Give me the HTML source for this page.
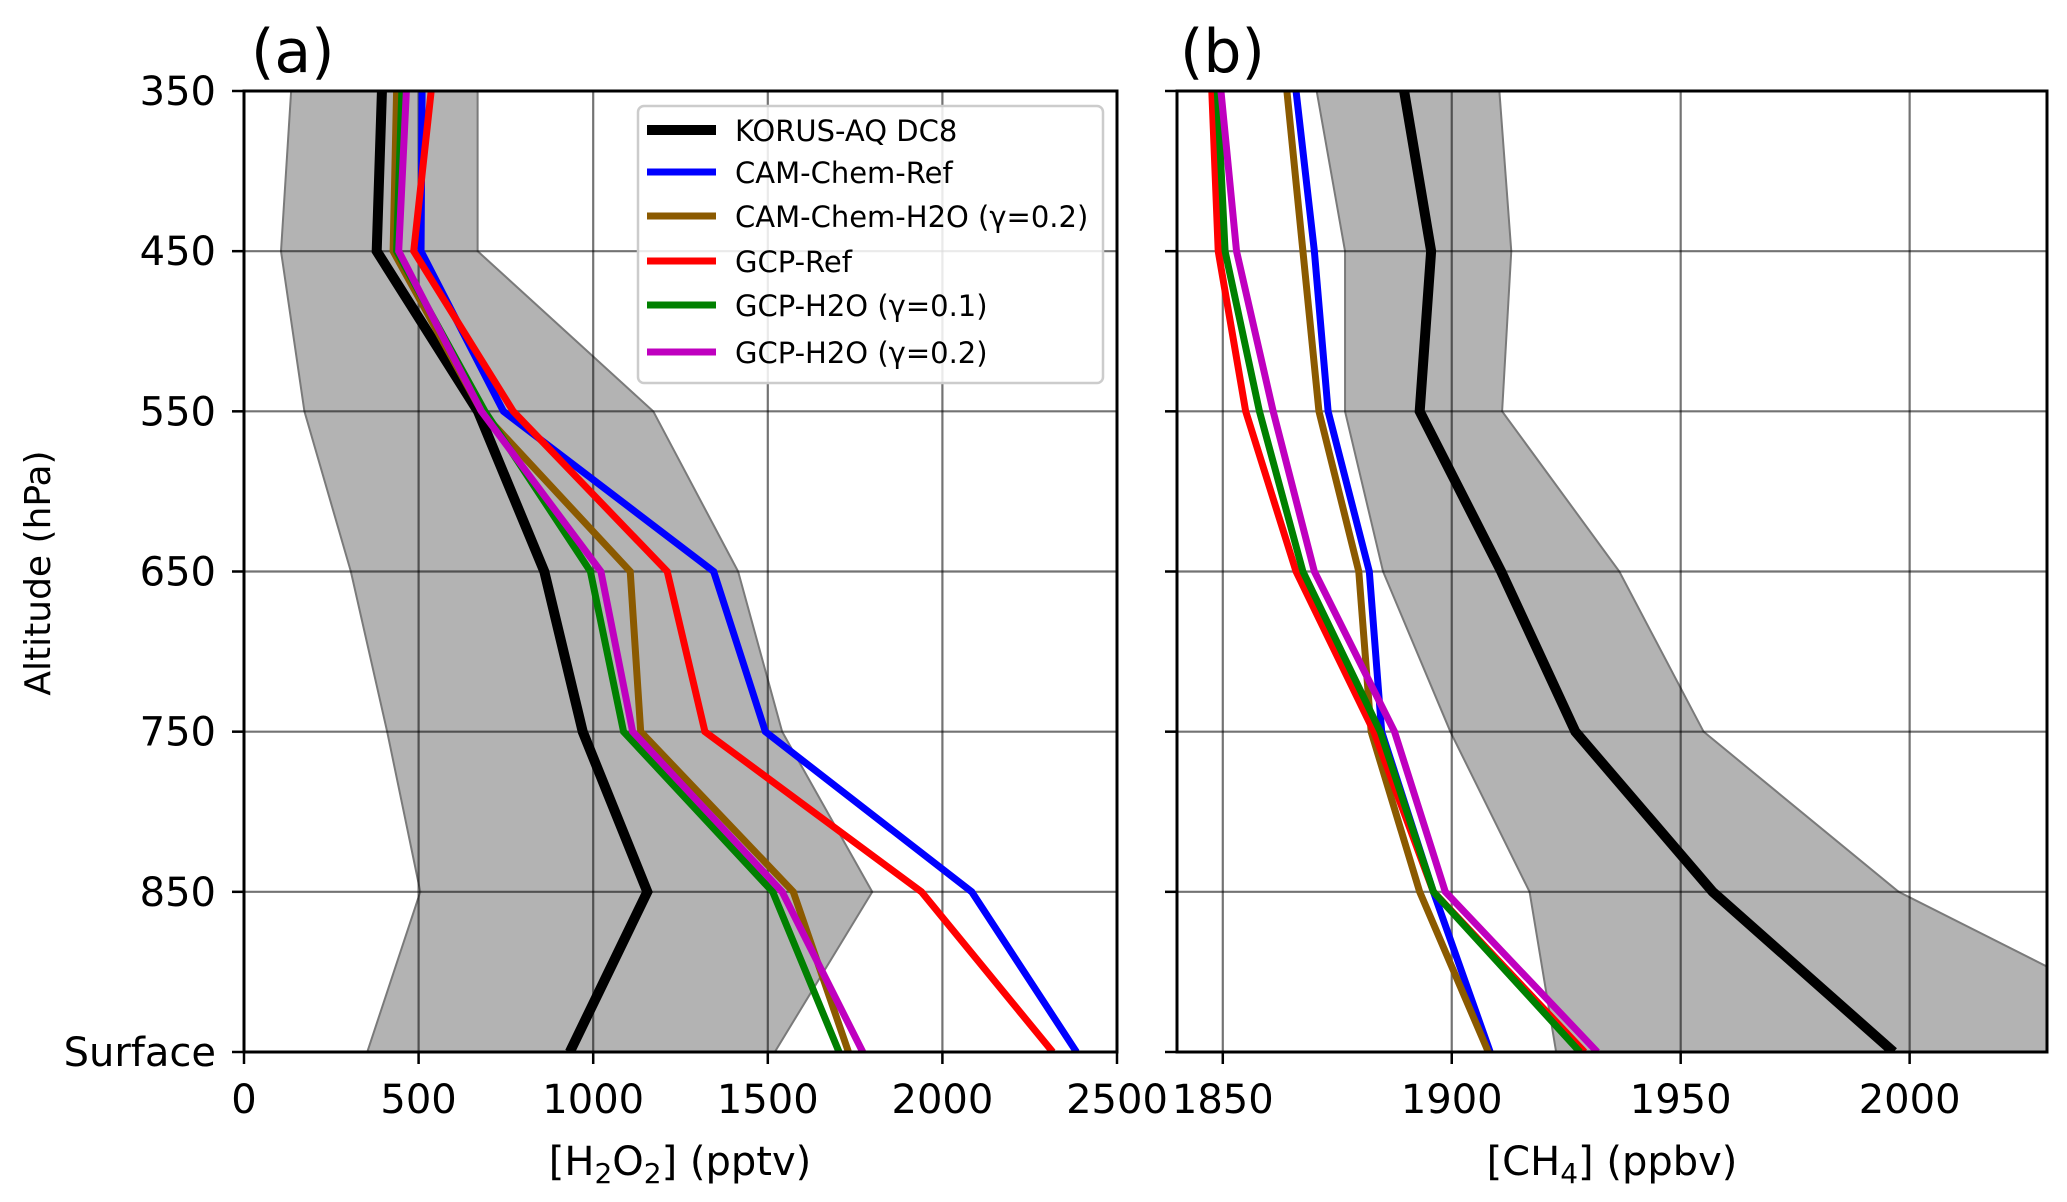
<!DOCTYPE html>
<html><head><meta charset="utf-8">
<style>
html,body{margin:0;padding:0;background:#fff;}
svg{display:block;font-family:"DejaVu Sans","Liberation Sans",sans-serif;}
</style></head>
<body>
<svg id="chart" xmlns="http://www.w3.org/2000/svg" width="2067" height="1202" viewBox="0 0 2067 1202">
<defs>
<clipPath id="clipA"><rect x="244" y="91" width="873" height="961"/></clipPath>
<clipPath id="clipB"><rect x="1177" y="91" width="870" height="961"/></clipPath>
</defs>
<g id="panelA"></g>
<g id="panelB"></g>
<text x="251" y="72" font-size="60">(a)</text>
<text x="1180" y="72" font-size="60">(b)</text>
<text transform="translate(50,573) rotate(-90)" text-anchor="middle" font-size="36">Altitude (hPa)</text>
<text x="680" y="1175" text-anchor="middle" font-size="40">[H<tspan font-size="28" dy="8">2</tspan><tspan dy="-8">O</tspan><tspan font-size="28" dy="8">2</tspan><tspan dy="-8">] (pptv)</tspan></text>
<text x="1612" y="1175" text-anchor="middle" font-size="40">[CH<tspan font-size="28" dy="8">4</tspan><tspan dy="-8">] (ppbv)</tspan></text>
<g id="legend"></g>
</svg>
<script>
const levels = ["350","450","550","650","750","850","Surface"];
const seriesNames = ["KORUS-AQ DC8","CAM-Chem-Ref","CAM-Chem-H2O (γ=0.2)","GCP-Ref","GCP-H2O (γ=0.1)","GCP-H2O (γ=0.2)"];
const seriesColors = ["#000000","#0000ff","#8b5a00","#ff0000","#008000","#bf00bf"];
const h2o2Korus = [395,380,670,860,970,1155,933];
const h2o2CamRef = [510,507,743,1345,1493,2084,2384];
const h2o2CamH2O = [437,427,680,1106,1136,1573,1731];
const h2o2GcpRef = [536,486,771,1212,1320,1940,2316];
const h2o2Gcp01 = [452,437,690,992,1087,1514,1704];
const h2o2Gcp02 = [465,443,680,1022,1113,1541,1772];
const h2o2Low = [135,106,173,306,410,505,353];
const h2o2High = [669,669,1172,1415,1541,1799,1520];
const ch4Korus = [1889.6,1895.5,1893,1910.8,1927,1957,1996.5];
const ch4CamRef = [1866,1870,1873,1882,1884.7,1896,1908.4];
const ch4CamH2O = [1864,1867.5,1871,1879.7,1882.4,1893,1908];
const ch4GcpRef = [1847.6,1849,1855,1866,1883,1896,1929];
const ch4Gcp01 = [1848.8,1850.5,1858,1867.5,1884.4,1896,1928];
const ch4Gcp02 = [1849.6,1853,1861,1870,1887.5,1898.6,1931.8];
const ch4Low = [1870.5,1876.7,1876.7,1885,1899.7,1917,1922.8];
const ch4High = [1910.4,1913,1911,1936.6,1955,1997.6,2067];
const xTicksA = [0,500,1000,1500,2000,2500];
const xTicksB = [1850,1900,1950,2000];

const NS="http://www.w3.org/2000/svg";
function mk(tag,attrs,parent){const e=document.createElementNS(NS,tag);for(const k in attrs)e.setAttribute(k,attrs[k]);parent.appendChild(e);return e;}
const plotTop=91,plotBottom=1052;
function yS(i){return plotTop+i*(plotBottom-plotTop)/(levels.length-1);}

function drawPanel(g,x0,x1,xmin,xmax,ticks,showY,lines,low,high,clip,tag){
  const xS=v=>x0+(v-xmin)/(xmax-xmin)*(x1-x0);
  let pts=[];low.forEach((v,i)=>pts.push(xS(v)+","+yS(i)));
  for(let i=high.length-1;i>=0;i--)pts.push(xS(high[i])+","+yS(i));
  const band=mk("polygon",{points:pts.join(" "),fill:"#b3b3b3",stroke:"#7a7a7a","stroke-width":2,"clip-path":"url(#"+clip+")"},g);
  
  
  ticks.forEach(t=>{const l=mk("line",{x1:xS(t),x2:xS(t),y1:plotTop,y2:plotBottom,stroke:"#000","stroke-opacity":0.55,"stroke-width":2.2},g);
    
    });
  levels.forEach((lv,i)=>{const l=mk("line",{x1:x0,x2:x1,y1:yS(i),y2:yS(i),stroke:"#000","stroke-opacity":0.55,"stroke-width":2.2},g);
    
    });
  lines.forEach((arr,k)=>{
    const p=arr.map((v,i)=>xS(v)+","+yS(i)).join(" ");
    const pl=mk("polyline",{points:p,fill:"none",stroke:seriesColors[k],"stroke-width":k===0?10:7,"stroke-linejoin":"miter","clip-path":"url(#"+clip+")"},g);
    
    
  });
  const fr=mk("rect",{x:x0,y:plotTop,width:x1-x0,height:plotBottom-plotTop,fill:"none",stroke:"#000","stroke-width":3},g);
  
  
  ticks.forEach(t=>{
    mk("line",{x1:xS(t),x2:xS(t),y1:plotBottom,y2:plotBottom+12,stroke:"#000","stroke-width":2.5},g);
    const tx=mk("text",{x:xS(t),y:1113,"text-anchor":"middle","font-size":40},g);
    tx.textContent=t;
    
    
  });
  levels.forEach((lv,i)=>{
    mk("line",{x1:x0-12,x2:x0,y1:yS(i),y2:yS(i),stroke:"#000","stroke-width":2.5},g);
    if(showY){const tx=mk("text",{x:216,y:yS(i)+14,"text-anchor":"end","font-size":40},g);
      tx.textContent=lv;
      
      }
  });
}
drawPanel(document.getElementById("panelA"),244,1117,0,2500,xTicksA,true,
  [h2o2Korus,h2o2CamRef,h2o2CamH2O,h2o2GcpRef,h2o2Gcp01,h2o2Gcp02],h2o2Low,h2o2High,"clipA","a");
drawPanel(document.getElementById("panelB"),1177,2047,1840,2030,xTicksB,false,
  [ch4Korus,ch4CamRef,ch4CamH2O,ch4GcpRef,ch4Gcp01,ch4Gcp02],ch4Low,ch4High,"clipB","b");

const lg=document.getElementById("legend");
const box=mk("rect",{x:638,y:106,width:465,height:277,rx:6,fill:"#fff","fill-opacity":0.85,stroke:"#cccccc","stroke-width":2.5},lg);


const ly=[130,172,216,261,305,352];
seriesNames.forEach((n,k)=>{
  const l=mk("line",{x1:647,x2:716,y1:ly[k],y2:ly[k],stroke:seriesColors[k],"stroke-width":k===0?10:7},lg);
  
  
  const t=mk("text",{x:735,y:ly[k]+11,"font-size":29},lg);
  t.textContent=n;
  
  
});
</script>
</body></html>
